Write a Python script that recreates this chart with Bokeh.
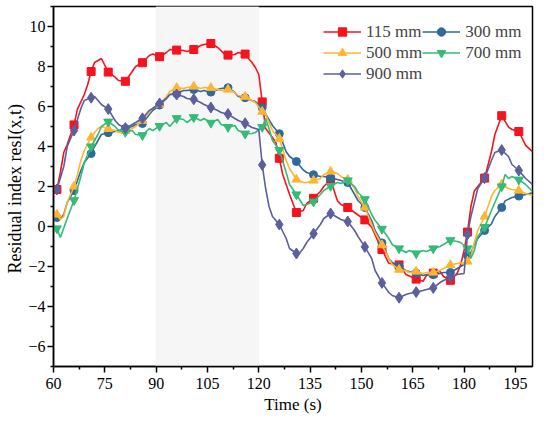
import math
from bokeh.plotting import figure
from bokeh.models import Range1d, BoxAnnotation, Legend, LegendItem, FixedTicker
from bokeh.embed import file_html
from bokeh.resources import INLINE

# ---------------- data (time in s, residual index) ----------------
marker_times = list(range(61, 197, 5))

s115 = [(61, 1.85), (62, 2.7), (63, 3.7), (64, 4.1), (66, 5.08), (67, 5.87), (69, 6.6), (70, 7.1),
        (71, 7.75), (72, 8.2), (74, 8.4), (76, 7.72), (78, 7.47), (79, 7.3), (81, 7.26), (83, 7.75),
        (84, 8.0), (86, 8.19), (88, 8.55), (89, 8.62), (91, 8.49), (93, 8.7), (94, 8.85), (96, 8.82),
        (98, 8.8), (99, 8.75), (101, 8.85), (103, 9.05), (104, 9.1), (106, 9.15), (108, 8.95),
        (110, 8.62), (111, 8.57), (113, 8.6), (114, 8.7), (116, 8.62), (117, 8.4), (118, 8.2),
        (119, 7.95), (120, 7.6), (121, 6.23), (122, 4.9), (124, 4.45), (125, 4.2), (126, 3.41),
        (127, 2.6), (129, 1.6), (131, 0.7), (133, 0.8), (134, 1.15), (136, 1.41), (138, 1.75),
        (139, 2.0), (141, 2.34), (143, 1.28), (144, 1.1), (146, 0.95), (148, 0.7), (151, 0.33),
        (153, -0.03), (155, -0.8), (156, -1.15), (158, -1.84), (161, -1.92), (163, -2.4),
        (166, -2.63), (168, -2.74), (169, -2.45), (171, -2.33), (173, -2.25), (174, -2.5),
        (176, -2.69), (178, -2.33), (179, -1.92), (180, -1.2), (181, -0.28), (182, 1.0), (183, 1.77),
        (184, 2.0), (186, 2.42), (188, 3.74), (189, 4.6), (191, 5.54), (193, 4.97), (194, 4.85),
        (196, 4.75), (198, 4.06), (200, 3.74)]

s300 = [(61, 0.45), (62, 0.4), (63, 0.6), (64, 1.2), (66, 1.8), (67, 2.3), (68, 2.8), (69, 3.2),
        (71, 3.65), (72, 4.0), (73, 4.3), (74, 4.6), (76, 4.69), (78, 4.75), (79, 4.8), (81, 4.9),
        (83, 5.0), (84, 5.1), (86, 5.15), (88, 5.6), (89, 5.8), (91, 6.07), (93, 6.4), (94, 6.6),
        (96, 6.65), (98, 6.8), (99, 6.8), (101, 6.85), (103, 6.75), (104, 6.8), (106, 6.72),
        (108, 6.85), (109, 6.9), (111, 6.94), (113, 6.7), (114, 6.5), (116, 6.44), (118, 6.3),
        (119, 6.25), (121, 5.95), (122, 5.62), (124, 5.05), (126, 4.64), (128, 3.74), (129, 3.5),
        (131, 3.25), (133, 2.83), (134, 2.7), (136, 2.59), (138, 2.5), (139, 2.5), (141, 2.42),
        (143, 2.35), (144, 2.3), (146, 2.2), (148, 1.6), (149, 1.3), (151, 0.95), (153, 0.3),
        (154, -0.2), (156, -0.82), (158, -1.6), (159, -1.8), (161, -2.0), (163, -2.2), (164, -2.25),
        (166, -2.33), (168, -2.45), (169, -2.4), (171, -2.41), (173, -2.35), (174, -2.3),
        (176, -2.3), (178, -2.1), (179, -2.0), (180, -1.9), (181, -1.45), (182, -1.3), (183, -0.9),
        (184, -0.6), (186, -0.2), (188, 0.13), (189, 0.5), (191, 0.95), (192, 1.28), (194, 1.45),
        (196, 1.52), (198, 1.6), (200, 1.69)]

s500 = [(61, 0.6), (62, 0.35), (63, 0.5), (64, 1.2), (66, 2.0), (67, 2.6), (68, 3.3), (69, 3.8),
        (71, 4.45), (72, 4.7), (73, 4.9), (74, 5.0), (76, 4.88), (78, 4.8), (79, 4.7), (81, 4.78),
        (83, 4.9), (84, 5.0), (86, 5.29), (88, 5.7), (89, 5.9), (91, 6.1), (93, 6.5), (94, 6.75),
        (96, 6.93), (98, 6.9), (99, 6.95), (101, 7.0), (103, 6.9), (104, 6.95), (106, 6.93),
        (108, 6.85), (109, 6.8), (111, 6.85), (113, 6.7), (114, 6.55), (116, 6.49), (118, 6.3),
        (119, 6.2), (121, 5.74), (122, 5.6), (123, 5.2), (124, 4.8), (126, 4.39), (128, 3.3),
        (129, 2.9), (131, 2.35), (133, 2.2), (134, 2.2), (136, 2.3), (138, 2.4), (139, 2.6),
        (141, 2.75), (143, 2.65), (144, 2.5), (146, 2.34), (148, 1.9), (149, 1.5), (151, 0.95),
        (153, 0.1), (154, -0.3), (156, -0.93), (158, -1.6), (159, -1.9), (161, -2.16), (163, -2.2),
        (164, -2.3), (166, -2.25), (168, -2.35), (169, -2.3), (171, -2.3), (173, -2.2), (174, -2.1),
        (176, -1.92), (178, -1.85), (180, -1.8), (181, -1.75), (182, -1.5), (183, -0.8),
        (184, -0.2), (186, 0.5), (188, 1.5), (189, 1.8), (191, 2.1), (193, 1.9), (194, 1.85),
        (196, 1.8), (198, 1.65), (200, 1.55)]

s700 = [(61, -0.1), (62, -0.55), (64, 0.4), (66, 1.31), (68, 2.5), (69, 3.2), (71, 4.0), (73, 4.6),
        (74, 5.0), (76, 5.24), (78, 5.0), (79, 4.8), (81, 4.72), (83, 4.8), (84, 4.6), (86, 4.56),
        (88, 4.9), (89, 4.8), (91, 5.02), (93, 5.2), (94, 5.0), (96, 5.41), (98, 5.35), (99, 5.2),
        (101, 5.46), (103, 5.3), (104, 5.4), (106, 5.18), (108, 5.35), (109, 5.1), (111, 4.97),
        (113, 5.05), (114, 4.8), (116, 4.64), (118, 4.65), (119, 4.7), (121, 4.97), (122, 5.4),
        (123, 4.9), (124, 4.3), (126, 3.82), (128, 2.7), (129, 2.1), (131, 1.6), (133, 1.05),
        (134, 1.1), (136, 1.24), (138, 1.6), (139, 1.8), (141, 2.02), (143, 2.2), (144, 2.15),
        (146, 2.3), (148, 2.0), (149, 1.7), (151, 1.36), (153, 0.6), (154, 0.3), (156, -0.12),
        (158, -0.6), (159, -0.9), (161, -1.1), (163, -1.3), (164, -1.2), (166, -1.35), (168, -1.2),
        (169, -1.25), (171, -1.1), (173, -1.0), (174, -0.9), (176, -0.69), (178, -0.75),
        (179, -0.8), (181, -1.1), (182, -1.59), (183, -1.2), (184, -0.5), (186, -0.03), (188, 0.8),
        (189, 1.2), (191, 2.0), (192, 2.6), (193, 2.4), (194, 2.5), (196, 2.34), (198, 2.1),
        (200, 1.75)]

s900 = [(61, 1.85), (63, 3.0), (64, 4.0), (66, 4.8), (68, 5.9), (69, 6.3), (71, 6.44), (72, 6.5),
        (73, 6.3), (74, 6.1), (76, 5.87), (78, 5.3), (79, 5.1), (81, 4.92), (82, 5.0), (83, 5.1),
        (84, 5.2), (86, 5.41), (88, 5.8), (89, 5.9), (91, 6.15), (93, 6.4), (94, 6.6), (96, 6.6),
        (98, 6.5), (99, 6.4), (101, 6.36), (103, 6.2), (104, 6.1), (106, 5.95), (108, 5.8),
        (109, 5.7), (111, 5.62), (113, 5.4), (114, 5.3), (116, 5.16), (118, 4.95), (120, 4.85),
        (121, 3.08), (122, 1.9), (123, 1.0), (124, 0.5), (126, 0.1), (128, -0.6), (129, -1.1),
        (131, -1.35), (132, -1.3), (133, -1.1), (134, -0.8), (136, -0.36), (138, 0.1), (139, 0.4),
        (141, 0.65), (143, 0.45), (144, 0.35), (146, 0.25), (148, -0.2), (149, -0.5), (151, -1.02),
        (153, -1.6), (154, -2.2), (156, -2.82), (158, -3.3), (159, -3.45), (161, -3.56),
        (163, -3.4), (164, -3.35), (166, -3.28), (168, -3.2), (169, -3.15), (171, -3.07),
        (173, -2.8), (174, -2.7), (176, -2.53), (178, -2.4), (180, -2.35), (181, -0.39), (182, 0.5),
        (183, 1.2), (184, 1.9), (186, 2.42), (188, 3.3), (189, 3.7), (191, 3.82), (193, 3.5),
        (194, 3.1), (196, 2.8), (198, 2.4), (200, 2.1)]

names = ["115 mm", "300 mm", "500 mm", "700 mm", "900 mm"]
colors = ["#f5141e", "#2f6a9a", "#ffb533", "#33bb77", "#5c5e9e"]
markers = ["square", "circle", "triangle", "inverted_triangle", "diamond"]
msizes = [8, 8, 9, 9, 11]

x_ticks = [60, 75, 90, 105, 120, 135, 150, 165, 180, 195]
y_ticks = [-6, -4, -2, 0, 2, 4, 6, 8, 10]

# ---------------- figure ----------------
SERIF = "Liberation Serif"
W, H = 534, 416
p = figure(width=W, height=H, x_range=Range1d(60, 200), y_range=Range1d(-7, 11),
           output_backend="svg", toolbar_location=None,
           min_border_left=53, min_border_right=2, min_border_top=6, min_border_bottom=50)
p.grid.visible = False
p.outline_line_color = "black"
p.outline_line_width = 1.5
p.background_fill_color = "white"

band = BoxAnnotation(left=90, right=120, fill_color="#f6f6f6", fill_alpha=1.0,
                     line_color="#e8e8e8", line_width=1, level="underlay")
p.add_layout(band)

for ax in (p.xaxis, p.yaxis):
    ax.axis_line_width = 1.5
    ax.major_tick_line_width = 1.5
    ax.minor_tick_line_width = 1.5
    ax.major_tick_out = 6
    ax.major_tick_in = 0
    ax.minor_tick_out = 3
    ax.minor_tick_in = 0
    ax.major_label_text_font = SERIF
    ax.major_label_text_font_size = "16px"
    ax.major_label_text_color = "black"
    ax.axis_label_text_font = SERIF
    ax.axis_label_text_font_style = "normal"
    ax.axis_label_text_color = "black"

p.xaxis.ticker = FixedTicker(ticks=x_ticks, minor_ticks=[t + 7.5 for t in x_ticks])
p.yaxis.ticker = FixedTicker(ticks=y_ticks, minor_ticks=[t + 1 for t in [-8] + y_ticks])
p.yaxis.major_label_standoff = 2
p.xaxis.axis_label = "Time (s)"
p.xaxis.axis_label_text_font_size = "17px"
p.xaxis.axis_label_standoff = 3
p.yaxis.axis_label = "Residual index  resI(x,t)"
p.yaxis.axis_label_text_font_size = "18px"
p.yaxis.axis_label_standoff = 0
p.yaxis.major_label_overrides = {t: ("\u2212" + str(-t) if t < 0 else str(t)) for t in y_ticks}

items = {}
for data, name, col, mk, ms in zip([s115, s300, s500, s700, s900], names, colors, markers, msizes):
    t = [a for a, _ in data]
    y = [b for _, b in data]
    mt = [a for a, b in data if a in marker_times]
    my = [b for a, b in data if a in marker_times]
    r1 = p.line(t, y, line_color=col, line_width=1.6)
    r2 = p.scatter(mt, my, marker=mk, size=ms, fill_color=col, line_color=col)
    items[name] = LegendItem(label=name, renderers=[r1, r2])

legend = Legend(items=[items["115 mm"], items["500 mm"], items["900 mm"],
                       items["300 mm"], items["700 mm"]],
                location=(270, 282), orientation="vertical", ncols=2,
                border_line_color=None, background_fill_alpha=0.0,
                label_text_font=SERIF, label_text_font_size="17px",
                glyph_width=38, glyph_height=21, label_height=21, label_standoff=5,
                spacing=0, padding=0, margin=0)
p.add_layout(legend)

open("out.html", "w").write(file_html(p, INLINE))
